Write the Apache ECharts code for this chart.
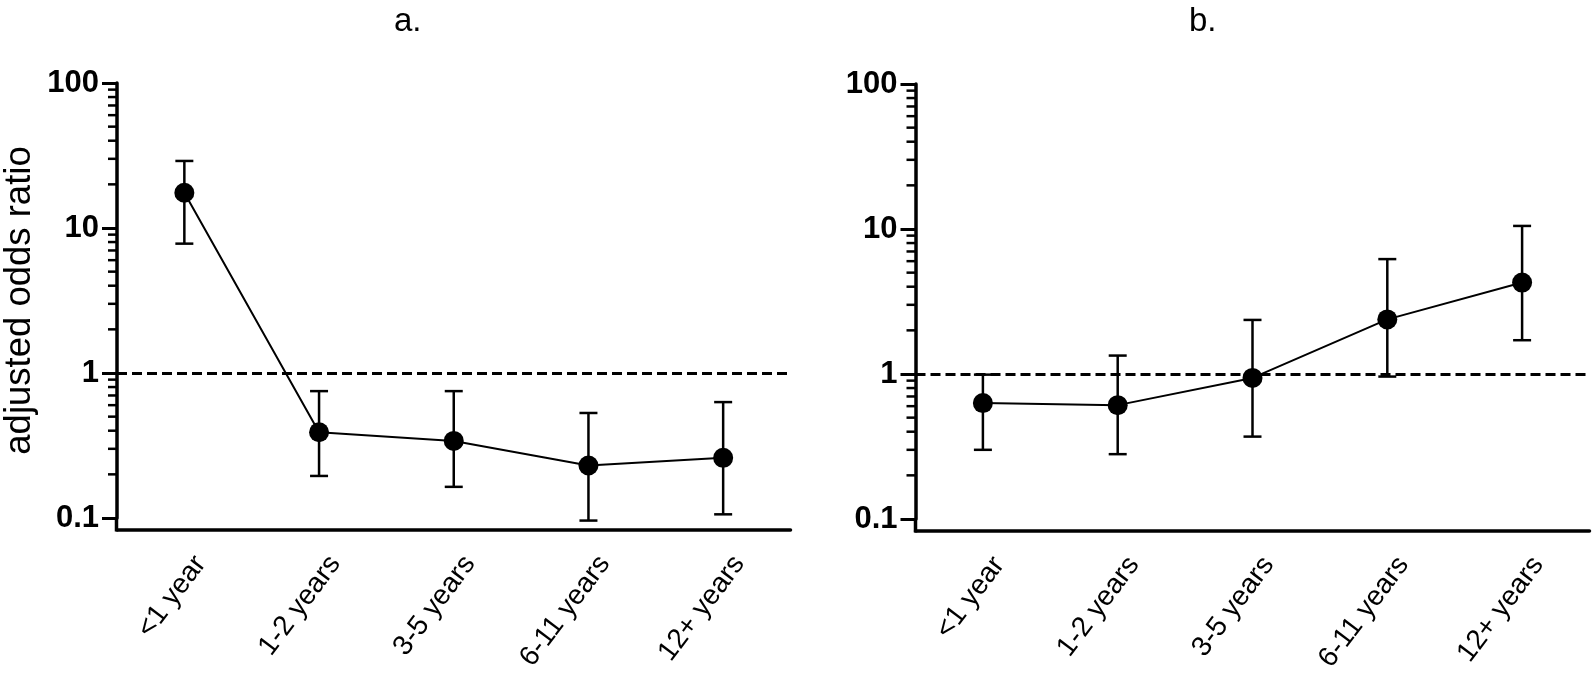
<!DOCTYPE html>
<html>
<head>
<meta charset="utf-8">
<script src="https://cdn.jsdelivr.net/npm/echarts@6/dist/echarts.min.js"></script>
<style>
  html, body { margin: 0; padding: 0; background: #fff; }
  #chart { width: 1594px; height: 691px; }
</style>
</head>
<body>
<div id="chart"></div>
<script>
var categories = ['<1 year', '1-2 years', '3-5 years', '6-11 years', '12+ years'];

// panel a
var oddsA = [17.5, 0.39, 0.34, 0.23, 0.26];
var lowA = [7.8, 0.195, 0.164, 0.096, 0.106];
var highA = [29, 0.75, 0.75, 0.53, 0.63];

// panel b
var oddsB = [0.63, 0.61, 0.94, 2.38, 4.27];
var lowB = [0.30, 0.28, 0.37, 0.96, 1.71];
var highB = [0.99, 1.34, 2.36, 6.2, 10.5];

var panelTitles = ['a.', 'b.'];
var yName = 'adjusted odds ratio';
var decades = [0.1, 1, 10];
var minorSteps = [2, 3, 4, 5, 6, 7, 8, 9];

var FONT = 'Liberation Sans, Arial, sans-serif';
var XOFF = 12;

var grids = [
    {left: 116.5, width: 674, top: 83, height: 435},
    {left: 915.5, width: 674, top: 84, height: 435}
];

var minorValues = [];
decades.forEach(function (d) {
    minorSteps.forEach(function (s) { minorValues.push(+(d * s).toPrecision(3)); });
});

function errorBars(idx, low, high) {
    return {
        type: 'custom',
        xAxisIndex: idx,
        yAxisIndex: idx,
        z: 3,
        clip: false,
        silent: true,
        data: categories.map(function (c, i) { return [i, low[i], high[i]]; }),
        renderItem: function (params, api) {
            var top = api.coord([api.value(0), api.value(2)]);
            var bot = api.coord([api.value(0), api.value(1)]);
            var w = 9;
            var st = {stroke: '#000', lineWidth: 2.5, fill: null};
            return {
                type: 'group',
                children: [
                    {type: 'line', shape: {x1: top[0], y1: top[1], x2: bot[0], y2: bot[1]}, style: st},
                    {type: 'line', shape: {x1: top[0] - w, y1: top[1], x2: top[0] + w, y2: top[1]}, style: st},
                    {type: 'line', shape: {x1: bot[0] - w, y1: bot[1], x2: bot[0] + w, y2: bot[1]}, style: st}
                ]
            };
        }
    };
}

function minorTickSeries(idx) {
    return {
        type: 'custom',
        xAxisIndex: idx,
        yAxisIndex: idx,
        clip: false,
        silent: true,
        data: minorValues.map(function (v) { return [0, v]; }),
        renderItem: function (params, api) {
            var p = api.coord([0, api.value(1)]);
            var x0 = params.coordSys.x;
            return {
                type: 'line',
                shape: {x1: x0 - 9, y1: p[1], x2: x0, y2: p[1]},
                style: {stroke: '#000', lineWidth: 2.5}
            };
        }
    };
}

function lineSeries(idx, odds) {
    return {
        type: 'line',
        xAxisIndex: idx,
        yAxisIndex: idx,
        data: odds,
        z: 4,
        symbol: 'circle',
        symbolSize: 20,
        itemStyle: {color: '#000'},
        lineStyle: {color: '#000', width: 2},
        markLine: {
            silent: true,
            symbol: ['none', 'none'],
            label: {show: false},
            lineStyle: {color: '#000', width: 3, type: [10, 5]},
            data: [{yAxis: 1}]
        }
    };
}

function xAxis(idx) {
    return {
        type: 'category',
        gridIndex: idx,
        data: categories,
        boundaryGap: true,
        offset: XOFF,
        axisLine: {lineStyle: {color: '#000', width: 3.5}},
        axisTick: {alignWithLabel: true, length: 13, lineStyle: {color: '#000', width: 3}},
        axisLabel: {
            interval: 0, rotate: 53, margin: 17,
            align: 'right', verticalAlign: 'top', padding: [6, 0, 0, 0],
            color: '#000', fontSize: 28, fontFamily: FONT
        },
        splitLine: {show: false}
    };
}

function yAxis(idx) {
    var ax = {
        type: 'log',
        logBase: 10,
        gridIndex: idx,
        min: 0.1,
        max: 100,
        axisLine: {show: true, lineStyle: {color: '#000', width: 3.5}},
        axisTick: {show: true, length: 15, lineStyle: {color: '#000', width: 3}},
        axisLabel: {margin: 18, color: '#000', fontSize: 31, fontWeight: 'bold', fontFamily: FONT},
        splitLine: {show: false}
    };
    if (idx === 0) {
        ax.name = yName;
        ax.nameLocation = 'middle';
        ax.nameGap = 79;
        ax.nameTextStyle = {color: '#000', fontSize: 36.5, fontFamily: FONT};
    }
    return ax;
}

var chart = echarts.init(document.getElementById('chart'));
chart.setOption({
    animation: false,
    backgroundColor: '#fff',
    title: [
        {text: panelTitles[0], left: 389, top: 0, textStyle: {color: '#000', fontSize: 33, fontWeight: 'normal', fontFamily: FONT}},
        {text: panelTitles[1], left: 1184, top: 0, textStyle: {color: '#000', fontSize: 33, fontWeight: 'normal', fontFamily: FONT}}
    ],
    grid: grids,
    xAxis: [xAxis(0), xAxis(1)],
    yAxis: [yAxis(0), yAxis(1)],
    series: [
        minorTickSeries(0), errorBars(0, lowA, highA), lineSeries(0, oddsA),
        minorTickSeries(1), errorBars(1, lowB, highB), lineSeries(1, oddsB)
    ]
});

// carry the y axis line down to the offset x axis
var ext = grids.map(function (g, i) {
    var p = chart.convertToPixel({gridIndex: i}, [0, 0.1]);
    return {
        type: 'line',
        shape: {x1: g.left, y1: p[1], x2: g.left, y2: p[1] + XOFF + 1.5},
        style: {stroke: '#000', lineWidth: 3.5}
    };
});
chart.setOption({graphic: ext});
</script>
</body>
</html>
